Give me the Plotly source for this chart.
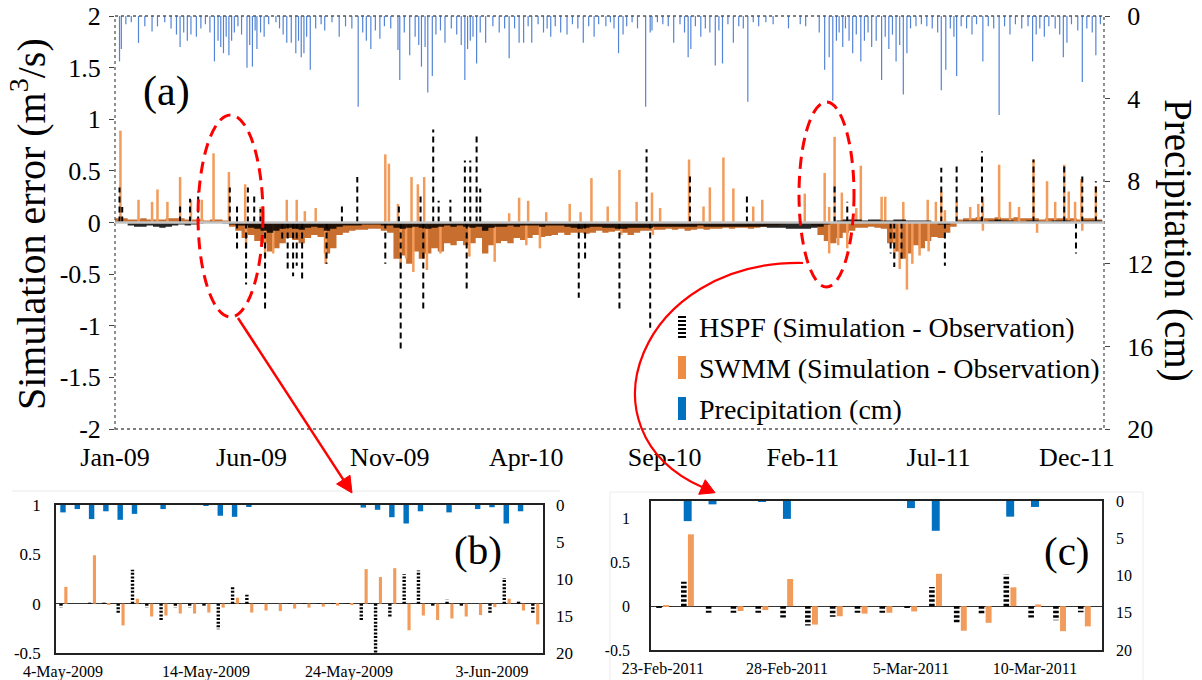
import plotly.graph_objects as go
import pandas as pd

W, H = 1202, 680
def fx(p): return p / W
def fy(p): return 1 - p / H

START = pd.Timestamp("2009-01-01")
DAY_MS = 86400000

# ---------------- panel (a): daily record, day index counted from 1-Jan-2009 ----------------
precip_day = [5, 7, 12, 18, 26, 33, 41, 47, 55, 62,
              68, 72, 76, 80, 84, 90, 95, 100, 105, 110,
              114, 117, 120, 123, 126, 129, 132, 136, 140, 146,
              149, 152, 155, 157, 161, 165, 170, 178, 182, 186,
              190, 195, 200, 203, 206, 209, 212, 216, 222, 228,
              232, 240, 248, 255, 262, 269, 274, 278, 283, 288,
              293, 298, 305, 313, 315, 320, 326, 332, 336, 339,
              343, 346, 351, 355, 360, 365, 372, 378, 383, 387,
              390, 393, 396, 400, 404, 410, 418, 425, 431, 436,
              442, 447, 452, 457, 461, 468, 474, 478, 482, 487,
              493, 500, 506, 512, 518, 524, 530, 535, 543, 548,
              552, 557, 562, 566, 572, 578, 587, 592, 594, 600,
              606, 612, 618, 625, 630, 634, 637, 642, 648, 653,
              658, 664, 668, 672, 678, 684, 690, 695, 700, 706,
              712, 720, 728, 745, 758, 764, 779, 785, 790, 794,
              798, 801, 805, 808, 812, 816, 820, 825, 829, 833,
              837, 842, 848, 852, 856, 860, 864, 868, 872, 876,
              880, 886, 892, 898, 904, 910, 914, 919, 924, 928,
              931, 936, 942, 948, 953, 960, 966, 972, 978, 984,
              990, 996, 1003, 1010, 1015, 1019, 1023, 1028, 1033, 1040,
              1045, 1049, 1053, 1058, 1065, 1070, 1075, 1081, 1085, 1090]
precip_cm = [2.2, 1.6, 0.4, 0.3, 1.3, 0.5, 0.75, 0.5, 0.3, 0.6,
             0.9, 1.5, 0.8, 1.2, 0.9, 1.0, 0.6, 0.4, 0.8, 2.2,
             1.2, 1.5, 1.8, 1.0, 1.9, 1.2, 0.8, 0.5, 0.9, 2.5,
             1.4, 2.45, 0.7, 1.6, 0.8, 1.0, 0.4, 0.3, 0.6, 0.9,
             1.3, 1.3, 1.8, 1.2, 2.0, 1.8, 1.0, 2.6, 0.6, 0.4,
             0.7, 0.3, 1.0, 0.5, 0.6, 4.4, 0.8, 1.2, 1.6, 0.7,
             1.1, 0.5, 0.6, 1.65, 3.1, 0.8, 1.9, 1.0, 1.4, 2.45,
             1.5, 3.7, 2.9, 0.9, 0.7, 1.3, 0.6, 0.9, 1.4, 3.1,
             1.6, 1.2, 1.0, 2.3, 0.8, 1.3, 0.5, 0.8, 0.6, 2.05,
             0.6, 1.3, 1.3, 0.5, 1.3, 0.4, 0.8, 0.6, 1.0, 0.5,
             0.8, 0.9, 0.4, 0.6, 1.3, 0.5, 1.0, 0.4, 0.5, 0.3,
             0.6, 1.8, 0.9, 0.5, 0.3, 0.6, 4.4, 0.8, 0.7, 0.3,
             0.4, 0.5, 1.3, 0.4, 0.8, 2.0, 1.6, 0.5, 1.0, 0.6,
             0.8, 2.4, 0.7, 2.3, 0.4, 1.3, 0.5, 0.6, 4.15, 0.3,
             0.5, 0.3, 0.4, 0.6, 0.4, 0.5, 0.8, 2.6, 2.0, 4.1,
             1.2, 0.8, 1.5, 0.6, 1.2, 1.8, 0.9, 2.2, 1.2, 0.8,
             1.5, 1.2, 3.1, 1.0, 1.6, 0.9, 2.2, 1.4, 3.8, 1.8,
             0.6, 0.5, 0.4, 0.5, 0.6, 0.8, 3.6, 2.6, 0.6, 1.0,
             2.9, 0.5, 0.6, 0.9, 0.4, 2.2, 0.5, 0.6, 4.8, 0.5,
             0.9, 0.4, 0.6, 0.5, 2.2, 0.9, 0.6, 1.0, 0.5, 0.6,
             0.9, 2.0, 1.3, 0.4, 0.7, 3.2, 0.6, 0.8, 1.9, 0.4]

swmm_spike_day = [6, 26, 41, 47, 58, 72, 84, 96, 109, 126,
                  144, 161, 190, 201, 210, 222, 299, 303, 313, 328,
                  335, 342, 436, 447, 457, 477, 503, 515, 527, 545,
                  558, 577, 594, 603, 635, 651, 658, 673, 684, 706,
                  716, 763, 785, 790, 796, 804, 820, 825, 848, 852,
                  872, 899, 908, 914, 918, 931, 946, 955, 960, 978,
                  990, 1000, 1016, 1031, 1040, 1050, 1055, 1062, 1069, 1085,
                  145, 166, 175, 233, 316, 322, 330, 345, 360, 392,
                  420, 455, 470, 560, 595, 790, 800, 810, 862, 868,
                  876, 882, 890, 900, 960, 1020, 1070]
swmm_spike_val = [0.89, 0.22, 0.2, 0.32, 0.2, 0.44, 0.22, 0.22, 0.67, 0.49,
                  0.37, 0.15, 0.22, 0.22, 0.11, 0.14, 0.66, 0.57, 0.18, 0.44,
                  0.37, 0.44, 0.09, 0.24, 0.21, 0.1, 0.18, 0.1, 0.43, 0.155,
                  0.51, 0.2, 0.29, 0.14, 0.61, 0.155, 0.34, 0.63, 0.33, 0.155,
                  0.22, 0.28, 0.48, 0.15, 0.83, 0.29, 0.14, 0.55, 0.25, 0.25,
                  0.2, 0.22, 0.2, 0.3, 0.12, 0.2, 0.15, 0.18, 0.25, 0.56,
                  0.2, 0.15, 0.61, 0.4, 0.2, 0.56, 0.3, 0.2, 0.42, 0.35,
                  -0.25, -0.33, -0.3, -0.4, -0.45, -0.35, -0.48, -0.46, -0.3, -0.33,
                  -0.38, -0.22, -0.25, -0.12, -0.12, -0.3, -0.22, -0.25, -0.35, -0.45,
                  -0.65, -0.4, -0.32, -0.28, -0.08, -0.1, -0.08]

hspf_spike_day = [5, 8, 72, 83, 92, 127, 135, 147, 154, 161,
                  251, 268, 314, 338, 352, 358, 371, 387, 393, 400,
                  404, 588, 636, 699, 796, 810, 914, 931, 959, 1016,
                  1050, 1070, 1085, 135, 145, 166, 185, 191, 197, 201,
                  207, 234, 299, 316, 341, 389, 513, 520, 558, 592,
                  858, 862, 870, 918, 1063]
hspf_spike_val = [0.34, 0.15, 0.18, 0.23, 0.3, 0.34, 0.19, 0.34, 0.28, 0.13,
                  0.16, 0.44, 0.18, 0.26, 0.9, 0.21, 0.22, 0.6, 0.6, 0.87,
                  0.33, 0.71, 0.46, 0.28, 0.38, 0.2, 0.53, 0.56, 0.69, 0.61,
                  0.58, 0.45, 0.4, -0.28, -0.6, -0.86, -0.18, -0.45, -0.52, -0.42,
                  -0.58, -0.4, -0.4, -1.25, -0.86, -0.67, -0.73, -0.35, -0.87, -1.02,
                  -0.3, -0.43, -0.35, -0.42, -0.3]

# weekly background level of the errors (157 weeks)
swmm_week = [0.04, 0.04, 0.03, 0.03, 0.04, 0.03, 0.03, 0.03, 0.04, 0.04,
             0.04, 0.03, 0.03, 0.03, 0.02, 0.03, 0.03, 0.02, -0.04, -0.08,
             -0.15, -0.12, -0.18, -0.2, -0.28, -0.25, -0.2, -0.15, -0.17, -0.2,
             -0.15, -0.12, -0.14, -0.3, -0.25, -0.12, -0.1, -0.08, -0.07, -0.07,
             -0.06, -0.06, -0.08, -0.1, -0.35, -0.32, -0.4, -0.28, -0.35, -0.3,
             -0.25, -0.28, -0.2, -0.22, -0.18, -0.22, -0.2, -0.15, -0.3, -0.22,
             -0.2, -0.18, -0.2, -0.15, -0.17, -0.15, -0.12, -0.14, -0.13, -0.12,
             -0.1, -0.12, -0.1, -0.1, -0.11, -0.1, -0.08, -0.1, -0.09, -0.08,
             -0.1, -0.12, -0.1, -0.08, -0.08, -0.07, -0.07, -0.06, -0.07, -0.06,
             -0.08, -0.07, -0.06, -0.07, -0.06, -0.06, -0.05, -0.06, -0.05, -0.05,
             -0.06, -0.05, -0.04, -0.03, -0.03, -0.02, -0.01, -0.01, -0.01, -0.01,
             -0.03, -0.12, -0.18, -0.2, -0.15, -0.1, -0.08, -0.05, -0.05, -0.04,
             -0.05, -0.06, -0.2, -0.28, -0.35, -0.3, -0.22, -0.25, -0.18, -0.14,
             -0.15, -0.1, -0.04, 0.03, 0.04, 0.04, 0.05, 0.04, 0.04, 0.05,
             0.04, 0.04, 0.05, 0.04, 0.04, 0.04, 0.03, 0.04, 0.04, 0.04,
             0.04, 0.04, 0.03, 0.04, 0.04, 0.03, 0.03]
hspf_week = [0.01, 0.0, -0.03, -0.04, -0.04, -0.03, -0.04, -0.05, -0.04, -0.03,
             -0.02, -0.03, -0.02, -0.01, 0.0, 0.01, 0.0, -0.01, -0.02, -0.03,
             -0.03, -0.05, -0.06, -0.08, -0.1, -0.08, -0.06, -0.05, -0.06, -0.07,
             -0.05, -0.04, -0.05, -0.08, -0.06, -0.04, -0.03, -0.03, -0.03, -0.02,
             -0.02, -0.02, -0.03, -0.03, -0.05, -0.06, -0.05, -0.04, -0.05, -0.06,
             -0.05, -0.04, -0.03, -0.04, -0.03, -0.04, -0.05, -0.04, -0.08, -0.05,
             -0.04, -0.04, -0.03, -0.04, -0.03, -0.03, -0.03, -0.04, -0.03, -0.03,
             -0.03, -0.04, -0.05, -0.06, -0.05, -0.04, -0.04, -0.05, -0.05, -0.06,
             -0.06, -0.05, -0.05, -0.05, -0.05, -0.04, -0.04, -0.04, -0.04, -0.04,
             -0.04, -0.04, -0.03, -0.04, -0.04, -0.04, -0.04, -0.04, -0.04, -0.04,
             -0.04, -0.04, -0.04, -0.05, -0.05, -0.05, -0.06, -0.06, -0.06, -0.06,
             -0.05, -0.04, -0.02, 0.0, 0.02, 0.03, 0.03, 0.03, 0.02, 0.03,
             0.03, 0.02, 0.02, 0.03, 0.03, 0.02, 0.02, 0.02, 0.02, 0.0,
             -0.02, -0.02, 0.0, 0.01, 0.02, 0.02, 0.02, 0.01, 0.02, 0.03,
             0.02, 0.02, 0.01, 0.01, 0.02, 0.02, 0.01, 0.01, 0.02, 0.02,
             0.02, 0.01, 0.01, 0.02, 0.02, 0.02, 0.01]

main_ticks = ["Jan-09", "Jun-09", "Nov-09", "Apr-10", "Sep-10", "Feb-11", "Jul-11", "Dec-11"]

# ---------------- panel (b): 4-May-2009 .. 6-Jun-2009 ----------------
b_start = "2009-05-04"
b_hspf = [-0.04, 0.0, 0.01, 0.01, -0.1, 0.345, -0.04, -0.17, -0.04, -0.04,
          -0.03, -0.26, 0.17, 0.09, 0.0, 0.0, 0.005, 0.005, 0.005, 0.005,
          0.005, -0.165, -0.5, -0.14, 0.3, 0.335, -0.035, 0.04, -0.035, 0.0,
          -0.1, 0.26, 0.035, -0.1]
b_swmm = [0.17, 0.0, 0.49, -0.01, -0.22, 0.05, -0.13, -0.12, -0.1, -0.1,
          -0.09, -0.04, 0.06, -0.09, -0.07, -0.075, -0.05, -0.04, -0.03, -0.02,
          -0.015, 0.35, 0.27, 0.36, -0.27, -0.12, -0.165, -0.15, -0.13, -0.115,
          -0.035, 0.05, -0.07, -0.21]
b_precip = [1.0, 0.55, 1.9, 0.85, 2.0, 1.2, 0, 0.55, 0, 0,
            0.1, 1.45, 1.6, 0.2, 0, 0, 0, 0, 0, 0,
            0, 0.35, 0.65, 1.65, 2.5, 0.85, 0, 1.0, 0, 0.55,
            0.3, 2.5, 0.85, 0]
b_ticks = ["4-May-2009", "14-May-2009", "24-May-2009", "3-Jun-2009"]

# ---------------- panel (c): 23-Feb-2011 .. 12-Mar-2011 ----------------
c_start = "2011-02-23"
c_hspf = [-0.02, 0.28, -0.075, -0.075, -0.075, -0.13, -0.22, -0.12, -0.075, -0.075,
          -0.02, 0.22, -0.2, -0.09, 0.36, -0.13, -0.16, -0.07]
c_swmm = [0.01, 0.82, 0.0, -0.055, -0.045, 0.31, -0.21, -0.115, -0.085, -0.075,
          -0.06, 0.37, -0.28, -0.19, 0.215, 0.02, -0.285, -0.23]
c_precip = [0, 2.7, 0.45, 0, 0.1, 2.4, 0, 0, 0, 0,
            0.95, 4.0, 0, 0, 2.1, 0.8, 0, 0]
c_ticks = ["23-Feb-2011", "28-Feb-2011", "5-Mar-2011", "10-Mar-2011"]

# ---------------- colours / fonts ----------------
ORANGE = "#f29b5b"
ORANGE_DARK = "#c86e2f"
BLUE_MAIN = "#5384d6"
BLUE = "#0070c0"
FONT = "Liberation Serif, Times New Roman, serif"


def iso(d):
    return d.strftime("%Y-%m-%d %H:%M")


def day_dates(days, start=START, shift=0.0):
    return [iso(start + pd.Timedelta(days=float(d) + shift)) for d in days]


def stems(days, vals, start=START, shift=0.0):
    xs, ys = [], []
    for d, v in zip(day_dates(days, start, shift), vals):
        xs += [d, d, None]
        ys += [0, v, None]
    return xs, ys


week_dates = day_dates([7 * i for i in range(len(swmm_week))])

fig = go.Figure()

# ---- panel (a) ----
fig.add_trace(go.Scatter(x=week_dates, y=swmm_week, mode="lines", line=dict(shape="hv", width=0, color=ORANGE_DARK),
                         fill="tozeroy", fillcolor=ORANGE_DARK, xaxis="x", yaxis="y", hoverinfo="skip"))
sx, sy = stems(swmm_spike_day, swmm_spike_val)
fig.add_trace(go.Scatter(x=sx, y=sy, mode="lines", line=dict(color=ORANGE, width=2.5), xaxis="x", yaxis="y"))
fig.add_trace(go.Scatter(x=week_dates, y=hspf_week, mode="lines", line=dict(shape="hv", width=0, color="black"),
                         fill="tozeroy", fillcolor="rgba(0,0,0,0.85)", xaxis="x", yaxis="y", hoverinfo="skip"))
hx, hy = stems(hspf_spike_day, hspf_spike_val)
fig.add_trace(go.Scatter(x=hx, y=hy, mode="lines", line=dict(color="black", width=2, dash="6px,4px"),
                         xaxis="x", yaxis="y"))
px_, py_ = stems(precip_day, precip_cm)
fig.add_trace(go.Scatter(x=px_, y=py_, mode="lines", line=dict(color=BLUE_MAIN, width=1.2), xaxis="x", yaxis="y2"))

# ---- panel (b) ----
b_days = list(range(len(b_swmm)))
b_dates = day_dates(b_days, pd.Timestamp(b_start))
bx, by = stems(b_days, b_hspf, pd.Timestamp(b_start), shift=-0.14)
fig.add_trace(go.Scatter(x=bx, y=by, mode="lines", xaxis="x2", yaxis="y3",
                         line=dict(color="black", width=3.4, dash="2px,1.6px")))
fig.add_trace(go.Bar(x=b_dates, y=b_swmm, xaxis="x2", yaxis="y3", width=0.22 * DAY_MS, offset=0.09 * DAY_MS,
                     marker=dict(color=ORANGE, line=dict(width=0))))
fig.add_trace(go.Bar(x=b_dates, y=b_precip, xaxis="x2", yaxis="y4", width=0.38 * DAY_MS, offset=-0.19 * DAY_MS,
                     marker=dict(color=BLUE, line=dict(width=0))))

# ---- panel (c) ----
c_days = list(range(len(c_swmm)))
c_dates = day_dates(c_days, pd.Timestamp(c_start))
cx, cy = stems(c_days, c_hspf, pd.Timestamp(c_start), shift=-0.155)
fig.add_trace(go.Scatter(x=cx, y=cy, mode="lines", xaxis="x3", yaxis="y5",
                         line=dict(color="black", width=5.6, dash="2.5px,2px")))
fig.add_trace(go.Bar(x=c_dates, y=c_swmm, xaxis="x3", yaxis="y5", width=0.24 * DAY_MS, offset=0.01 * DAY_MS,
                     marker=dict(color=ORANGE, line=dict(width=0))))
fig.add_trace(go.Bar(x=c_dates, y=c_precip, xaxis="x3", yaxis="y6", width=0.32 * DAY_MS, offset=-0.16 * DAY_MS,
                     marker=dict(color=BLUE, line=dict(width=0))))

# ---------------- axes ----------------
main_tickvals = [iso(START + pd.DateOffset(months=5 * i)) for i in range(len(main_ticks))]
left_vals = [2, 1.5, 1, 0.5, 0, -0.5, -1, -1.5, -2]
inset_vals = [1, 0.5, 0, -0.5]
TK = 26
TI = 16

fig.update_layout(
    width=W, height=H, margin=dict(l=0, r=0, t=0, b=0, autoexpand=False),
    paper_bgcolor="white", plot_bgcolor="rgba(0,0,0,0)", showlegend=False,
    barmode="overlay", font=dict(family=FONT, color="black"),
    xaxis=dict(domain=[fx(115), fx(1104)], anchor="y", type="date", automargin=False,
               range=["2009-01-01", "2011-12-31"], tickvals=main_tickvals, ticktext=main_ticks,
               tickfont=dict(size=TK, family=FONT), ticks="", showgrid=False, zeroline=False, showline=False,
               ticklabelstandoff=10),
    yaxis=dict(domain=[fy(429), fy(16)], anchor="x", range=[-2, 2], tickvals=left_vals, automargin=False,
               ticktext=["%g" % v for v in left_vals],
               tickfont=dict(size=TK, family=FONT), ticks="outside", ticklen=5, tickcolor="#444",
               showgrid=False, zeroline=False, showline=False, ticklabelstandoff=3),
    yaxis2=dict(overlaying="y", side="right", anchor="x", range=[20, 0], tickvals=[0, 4, 8, 12, 16, 20],
                automargin=False, tickfont=dict(size=TK, family=FONT), ticks="outside", ticklen=5,
                tickcolor="#444", showgrid=False, zeroline=False, showline=False, ticklabelstandoff=12),
    xaxis2=dict(domain=[fx(56), fx(543)], anchor="y3", type="date", automargin=False,
                range=["2009-05-03 12:15", "2009-06-06 13:40"],
                tickvals=day_dates([0, 10, 20, 30], pd.Timestamp(b_start)), ticktext=b_ticks,
                tickfont=dict(size=TI, family=FONT), ticks="", showgrid=False, zeroline=False,
                showline=True, mirror=True, linecolor="#222", linewidth=1.5, ticklabelstandoff=3),
    yaxis3=dict(domain=[fy(653), fy(505)], anchor="x2", range=[-0.5, 1], tickvals=inset_vals, automargin=False,
                ticktext=["%g" % v for v in inset_vals], tickfont=dict(size=TI + 1, family=FONT), ticks="",
                showgrid=False, zeroline=True, zerolinecolor="#333", zerolinewidth=1.2,
                showline=True, mirror=True, linecolor="#222", linewidth=1.5, ticklabelstandoff=10),
    yaxis4=dict(overlaying="y3", side="right", anchor="x2", range=[20, 0], tickvals=[0, 5, 10, 15, 20],
                automargin=False, tickfont=dict(size=TI + 1, family=FONT), ticks="", showgrid=False,
                zeroline=False, showline=False, ticklabelstandoff=12),
    xaxis3=dict(domain=[fx(651), fx(1102)], anchor="y5", type="date", automargin=False,
                range=["2011-02-22 12:30", "2011-03-12 16:50"],
                tickvals=day_dates([0, 5, 10, 15], pd.Timestamp(c_start)), ticktext=c_ticks,
                tickfont=dict(size=TI, family=FONT), ticks="", showgrid=False, zeroline=False,
                showline=True, mirror=True, linecolor="#222", linewidth=1.5, ticklabelstandoff=3),
    yaxis5=dict(domain=[fy(650), fy(501)], anchor="x3", range=[-0.5, 1.2], tickvals=inset_vals, automargin=False,
                ticktext=["%g" % v for v in inset_vals], tickfont=dict(size=TI, family=FONT), ticks="",
                showgrid=False, zeroline=True, zerolinecolor="#333", zerolinewidth=1.2,
                showline=True, mirror=True, linecolor="#222", linewidth=1.5, ticklabelstandoff=16),
    yaxis6=dict(overlaying="y5", side="right", anchor="x3", range=[20, 0], tickvals=[0, 5, 10, 15, 20],
                automargin=False, tickfont=dict(size=TI, family=FONT), ticks="", showgrid=False,
                zeroline=False, showline=False, ticklabelstandoff=13),
)


def tri(tip, base_c, half, along):
    ux, uy = along
    nx, ny = -uy, ux
    p1 = (base_c[0] + half * nx, base_c[1] + half * ny)
    p2 = (base_c[0] - half * nx, base_c[1] - half * ny)
    return "M {:.5f},{:.5f} L {:.5f},{:.5f} L {:.5f},{:.5f} Z".format(
        fx(tip[0]), fy(tip[1]), fx(p1[0]), fy(p1[1]), fx(p2[0]), fy(p2[1]))


# ---------------- shapes ----------------
shapes = []
shapes.append(dict(type="rect", xref="x domain", yref="y domain", x0=0, x1=1, y0=0, y1=1,
                   line=dict(color="#555", width=1.3, dash="dot"), layer="above"))
shapes.append(dict(type="line", xref="x domain", yref="y", x0=0, x1=1, y0=0, y1=0,
                   line=dict(color="#c4c4c4", width=2.5), layer="above"))
shapes.append(dict(type="line", xref="paper", yref="paper", x0=fx(12), x1=fx(560), y0=fy(491), y1=fy(491),
                   line=dict(color="#e8e8e8", width=1)))
shapes.append(dict(type="rect", xref="paper", yref="paper", x0=fx(610), x1=fx(1143), y0=fy(682), y1=fy(492),
                   line=dict(color="#ececec", width=1)))
shapes.append(dict(type="circle", xref="paper", yref="paper", x0=fx(198), x1=fx(263), y0=fy(317), y1=fy(115),
                   line=dict(color="#ff0000", width=3, dash="12px,7px"), layer="above"))
shapes.append(dict(type="circle", xref="paper", yref="paper", x0=fx(799), x1=fx(854), y0=fy(287), y1=fy(102),
                   line=dict(color="#ff0000", width=3, dash="12px,7px"), layer="above"))
shapes.append(dict(type="line", xref="paper", yref="paper", x0=fx(238), y0=fy(318), x1=fx(343.3), y1=fy(479.6),
                   line=dict(color="#ff0000", width=2.5), layer="above"))
shapes.append(dict(type="path", xref="paper", yref="paper", path=tri((352, 493), (343.3, 479.6), 8, (0.546, 0.838)),
                   fillcolor="#ff0000", line=dict(color="#ff0000", width=1), layer="above"))
pts = [(803, 263), (640, 260), (575, 430), (702, 487)]
path = "M {:.5f},{:.5f} C {:.5f},{:.5f} {:.5f},{:.5f} {:.5f},{:.5f}".format(
    fx(pts[0][0]), fy(pts[0][1]), fx(pts[1][0]), fy(pts[1][1]),
    fx(pts[2][0]), fy(pts[2][1]), fx(pts[3][0]), fy(pts[3][1]))
shapes.append(dict(type="path", xref="paper", yref="paper", path=path,
                   line=dict(color="#ff0000", width=2.2), layer="above"))
shapes.append(dict(type="path", xref="paper", yref="paper", path=tri((715, 492.7), (702, 487), 8, (0.912, 0.409)),
                   fillcolor="#ff0000", line=dict(color="#ff0000", width=1), layer="above"))
# legend symbols
shapes.append(dict(type="line", xref="paper", yref="paper", x0=fx(682), x1=fx(682), y0=fy(338), y1=fy(316),
                   line=dict(color="black", width=8, dash="2px,2px")))
shapes.append(dict(type="rect", xref="paper", yref="paper", x0=fx(678), x1=fx(686), y0=fy(379), y1=fy(356),
                   line=dict(width=0), fillcolor="#ee8c43"))
shapes.append(dict(type="rect", xref="paper", yref="paper", x0=fx(678), x1=fx(686), y0=fy(420), y1=fy(397),
                   line=dict(width=0), fillcolor=BLUE))
fig.update_layout(shapes=shapes)

# ---------------- annotations ----------------
ann = []
ann.append(dict(text="Simulation error (m<sup>3</sup>/s)", xref="paper", yref="paper", x=fx(29), y=fy(224),
                textangle=-90, showarrow=False, font=dict(size=40, family=FONT), xanchor="center", yanchor="middle"))
ann.append(dict(text="Precipitation (cm)", xref="paper", yref="paper", x=fx(1178), y=fy(240),
                textangle=90, showarrow=False, font=dict(size=39, family=FONT), xanchor="center", yanchor="middle"))
ann.append(dict(text="(a)", xref="paper", yref="paper", x=fx(167), y=fy(92), showarrow=False,
                font=dict(size=42, family=FONT), xanchor="center", yanchor="middle"))
ann.append(dict(text="(b)", xref="paper", yref="paper", x=fx(478), y=fy(550), showarrow=False,
                font=dict(size=41, family=FONT), xanchor="center", yanchor="middle"))
ann.append(dict(text="(c)", xref="paper", yref="paper", x=fx(1067), y=fy(551), showarrow=False,
                font=dict(size=41, family=FONT), xanchor="center", yanchor="middle"))
legend_items = [("HSPF (Simulation - Observation)", 327), ("SWMM (Simulation - Observation)", 368),
                ("Precipitation (cm)", 409)]
for txt, yy in legend_items:
    ann.append(dict(text=txt, xref="paper", yref="paper", x=fx(697), y=fy(yy), showarrow=False,
                    font=dict(size=28, family=FONT), xanchor="left", yanchor="middle"))
fig.update_layout(annotations=ann)

fig.write_html("out.html", config={"displayModeBar": False},
               post_script="document.body.style.margin='0px';")
